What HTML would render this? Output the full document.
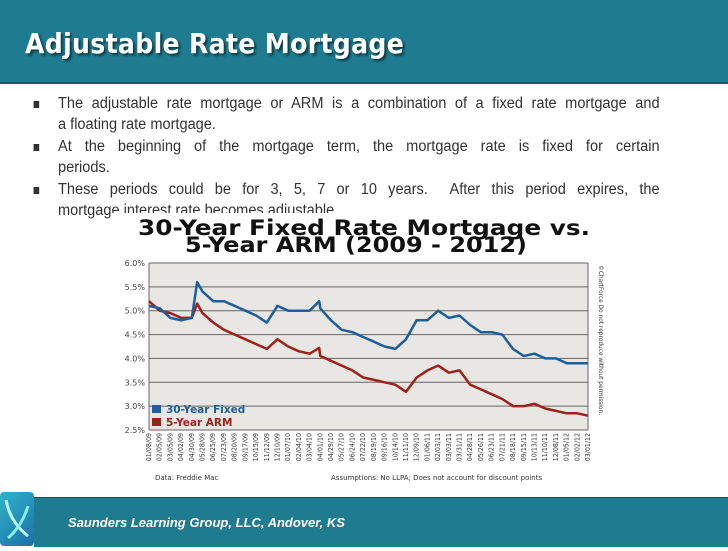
<!DOCTYPE html>
<html><head><meta charset="utf-8"><style>
body{margin:0;width:728px;height:546px;overflow:hidden;background:#fff;font-family:"Liberation Sans",sans-serif;position:relative}
#hdr{position:absolute;left:0;top:0;width:728px;height:82px;background:#1f7b8f;border-bottom:2px solid #155a6a}
#hdr h1{margin:0;position:absolute;left:25px;top:27px;font-size:28px;color:#fff;font-family:"DejaVu Sans Condensed","Liberation Sans",sans-serif;font-weight:bold;text-shadow:2px 2px 2px #0a3a45;letter-spacing:0.3px}
#body{position:absolute;left:58px;top:94px;width:640px;font-size:15.5px;color:#333;line-height:20.5px;transform:scaleX(0.94);transform-origin:0 0}
#body p{margin:0 0 2px 0;position:relative}
#body span{display:block;white-space:nowrap}
#body span.j{text-align:justify;text-align-last:justify}
#body p::before{content:"";position:absolute;left:-26px;top:7px;width:6px;height:7px;background:#333}
#cover{position:absolute;left:112px;top:213px;width:530px;height:280px;background:#fff}
#ftr{position:absolute;left:34px;top:497px;width:694px;height:49px;background:#1f7b8f;border-top:1px solid #0f4f5e}
#ftr span{position:absolute;left:34px;top:17px;color:#fff;font-style:italic;font-weight:bold;font-size:13px}
#logo{position:absolute;left:0;top:492px;width:34px;height:54px;background:linear-gradient(135deg,#2fb3c9,#1b6fa8);border-radius:4px}
</style></head><body>
<div id="hdr"><h1>Adjustable Rate Mortgage</h1></div>
<div id="body">
<p><span class="j">The adjustable rate mortgage or ARM is a combination of a fixed rate mortgage and</span><span>a floating rate mortgage.</span></p>
<p><span class="j">At the beginning of the mortgage term, the mortgage rate is fixed for certain</span><span>periods.</span></p>
<p><span class="j">These periods could be for 3, 5, 7 or 10 years.&nbsp; After this period expires, the</span><span>mortgage interest rate becomes adjustable.</span></p>
</div>
<div id="cover"></div>
<svg id="chart" width="728" height="546" style="position:absolute;left:0;top:0" xmlns="http://www.w3.org/2000/svg"></svg>
<div id="logo">
<svg width="34" height="54"><path d="M6 8 Q10 30 28 44" stroke="#bff" stroke-width="3" fill="none"/><path d="M28 14 Q22 34 8 46" stroke="#8ee" stroke-width="3" fill="none"/></svg></div>
<div id="ftr"><span>Saunders Learning Group, LLC, Andover, KS</span></div>
<script>
const dateLabels=["01/08/09","02/05/09","03/05/09","04/02/09","04/30/09","05/28/09","06/25/09","07/23/09","08/20/09","09/17/09","10/15/09","11/12/09","12/10/09","01/07/10","02/04/10","03/04/10","04/01/10","04/29/10","05/27/10","06/24/10","07/22/10","08/19/10","09/16/10","10/14/10","11/11/10","12/09/10","01/06/11","02/03/11","03/03/11","03/31/11","04/28/11","05/26/11","06/23/11","07/21/11","08/18/11","09/15/11","10/13/11","11/10/11","12/08/11","01/05/12","02/02/12","03/01/12"];
const yTicks=[2.5,3.0,3.5,4.0,4.5,5.0,5.5,6.0];
const pointIdx=[0,1,2,3,4,4.5,5,6,7,8,9,10,11,12,13,14,15,15.9,16,17,18,19,20,21,22,23,24,25,26,27,28,29,30,31,32,33,34,35,36,37,38,39,40,41];
const fixedRate=[5.1,5.05,4.85,4.8,4.85,5.6,5.4,5.2,5.2,5.1,5.0,4.9,4.75,5.1,5.0,5.0,5.0,5.2,5.05,4.8,4.6,4.55,4.45,4.35,4.25,4.2,4.4,4.8,4.8,5.0,4.85,4.9,4.7,4.55,4.55,4.5,4.2,4.05,4.1,4.0,4.0,3.9,3.9,3.9];
const armRate=[5.2,5.0,4.95,4.85,4.85,5.15,4.95,4.75,4.6,4.5,4.4,4.3,4.2,4.4,4.25,4.15,4.1,4.22,4.05,3.95,3.85,3.75,3.6,3.55,3.5,3.45,3.3,3.6,3.75,3.85,3.7,3.75,3.45,3.35,3.25,3.15,3.0,3.0,3.05,2.95,2.9,2.85,2.85,2.8];
const svg=document.getElementById('chart');const NS="http://www.w3.org/2000/svg";
const L=149,R=588,T=263,B=430;
const xs=i=>L+i*(R-L)/(dateLabels.length-1);
const ys=v=>B-(v-2.5)/3.5*(B-T);
function mk(t,a,txt){const e=document.createElementNS(NS,t);for(const k in a)e.setAttribute(k,a[k]);if(txt!==undefined)e.textContent=txt;svg.appendChild(e);return e;}
let e;
e=mk('rect',{x:L,y:T,width:R-L,height:B-T,fill:'#e9e7e3'});


e=mk('text',{x:138,y:235,'font-size':'21','font-weight':'bold',fill:'#111','font-family':'DejaVu Sans, sans-serif',textLength:452,lengthAdjust:'spacingAndGlyphs'},'30-Year Fixed Rate Mortgage vs.');


e=mk('text',{x:185,y:252,'font-size':'21','font-weight':'bold',fill:'#111','font-family':'DejaVu Sans, sans-serif',textLength:342,lengthAdjust:'spacingAndGlyphs'},'5-Year ARM (2009 - 2012)');


yTicks.forEach(v=>{
 e=mk('line',{x1:L,x2:R,y1:ys(v),y2:ys(v),stroke:'#666','stroke-width':1});
 
 
 e=mk('text',{x:L-4,y:ys(v)+3,'text-anchor':'end','font-size':'8',fill:'#444','font-family':'DejaVu Sans, sans-serif'},v.toFixed(1)+'%');
 
 
});
e=mk('line',{x1:L,x2:L,y1:T,y2:B,stroke:'#666'});


e=mk('line',{x1:R,x2:R,y1:T,y2:B,stroke:'#666'});


dateLabels.forEach((d,i)=>{
 const x=xs(i)+2;
 e=mk('text',{x:x,y:B+3,'text-anchor':'end','font-size':'7',fill:'#333','font-family':'DejaVu Sans Condensed, sans-serif',transform:`rotate(-90 ${x} ${B+3})`},d);
 
 
});
function line(vals,color,name){
 const p=vals.map((v,k)=>`${xs(pointIdx[k]).toFixed(1)},${ys(v).toFixed(1)}`).join(' ');
 e=mk('polyline',{points:p,fill:'none',stroke:color,'stroke-width':2.5,'stroke-linejoin':'round'});
 
 
}
line(armRate,'#a0201c','arm-line');
line(fixedRate,'#1d5f9c','fixed-line');
e=mk('rect',{x:152,y:405,width:9,height:8,fill:'#1d5f9c'});


e=mk('text',{x:166,y:413,'font-size':'10.5','font-weight':'bold',fill:'#1d5f9c','font-family':'DejaVu Sans, sans-serif'},'30-Year Fixed');


e=mk('rect',{x:152,y:418,width:9,height:8,fill:'#a0201c'});


e=mk('text',{x:166,y:426,'font-size':'10.5','font-weight':'bold',fill:'#a0201c','font-family':'DejaVu Sans, sans-serif'},'5-Year ARM');


e=mk('text',{x:599,y:265,'font-size':'6.5',fill:'#333','font-family':'DejaVu Sans Condensed, sans-serif',transform:'rotate(90 599 265)'},'©ChartForce  Do not reproduce without permission.');


e=mk('text',{x:155,y:480,'font-size':'7',fill:'#333','font-family':'DejaVu Sans, sans-serif'},'Data: Freddie Mac');


e=mk('text',{x:331,y:480,'font-size':'7',fill:'#333','font-family':'DejaVu Sans, sans-serif'},'Assumptions:  No LLPA; Does not account for discount points');


</script>
</body></html>
